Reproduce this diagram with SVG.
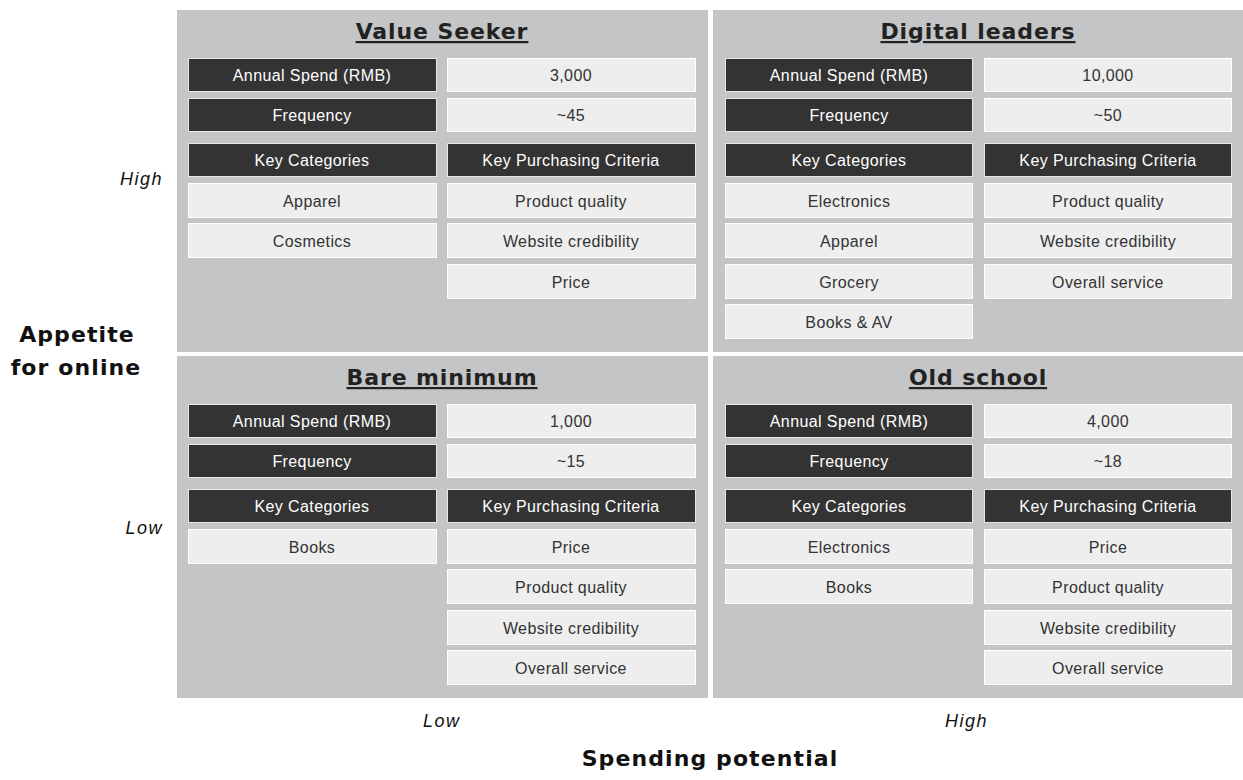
<svg xmlns="http://www.w3.org/2000/svg" width="1243" height="780" viewBox="0 0 1243 780">
  <style>
    .panel { fill: #c4c5c7; }
    .dk { fill: #333333; stroke: #e6e6e6; stroke-width: 1; }
    .lt { fill: #eeeeee; stroke: #ffffff; stroke-width: 1; }
    .dt { fill: #ffffff; font-family: "Liberation Sans", Arial, sans-serif; font-size: 16px; letter-spacing: 0.4px; text-anchor: middle; }
    .ltx { fill: #333333; font-family: "Liberation Sans", Arial, sans-serif; font-size: 16px; letter-spacing: 0.4px; text-anchor: middle; }
    .title { fill: #222222; font-family: "DejaVu Sans", sans-serif; font-weight: bold; font-size: 22px; letter-spacing: 0.9px; text-anchor: middle; text-decoration: underline; }
    .axis { fill: #111111; font-family: "DejaVu Sans", sans-serif; font-weight: bold; font-size: 22px; letter-spacing: 1.1px; text-anchor: middle; }
    .tick { fill: #111111; font-family: "Liberation Sans", Arial, sans-serif; font-style: italic; font-size: 18px; letter-spacing: 1.5px; }
  </style>

  <rect width="1243" height="780" fill="#ffffff"/>

  <!-- Quadrant: high appetite, low spend -->
  <g id="value-seeker">
    <rect class="panel" x="177" y="10" width="531" height="342"/>
    <text class="title" x="442" y="39">Value Seeker</text>
    <rect class="dk" x="188.5" y="58.5" width="248" height="33"/><text class="dt" x="312" y="81">Annual Spend (RMB)</text>
    <rect class="lt" x="447.5" y="58.5" width="248" height="33"/><text class="ltx" x="571" y="81">3,000</text>
    <rect class="dk" x="188.5" y="98.5" width="248" height="33"/><text class="dt" x="312" y="121">Frequency</text>
    <rect class="lt" x="447.5" y="98.5" width="248" height="33"/><text class="ltx" x="571" y="121">~45</text>
    <rect class="dk" x="188.5" y="143.5" width="248" height="33"/><text class="dt" x="312" y="166">Key Categories</text>
    <rect class="dk" x="447.5" y="143.5" width="248" height="33"/><text class="dt" x="571" y="166">Key Purchasing Criteria</text>
    <rect class="lt" x="188.5" y="183.5" width="248" height="34"/><text class="ltx" x="312" y="207">Apparel</text>
    <rect class="lt" x="447.5" y="183.5" width="248" height="34"/><text class="ltx" x="571" y="207">Product quality</text>
    <rect class="lt" x="188.5" y="223.5" width="248" height="34"/><text class="ltx" x="312" y="247">Cosmetics</text>
    <rect class="lt" x="447.5" y="223.5" width="248" height="34"/><text class="ltx" x="571" y="247">Website credibility</text>
    <rect class="lt" x="447.5" y="264.5" width="248" height="34"/><text class="ltx" x="571" y="288">Price</text>
  </g>

  <!-- Quadrant: high appetite, high spend -->
  <g id="digital-leaders">
    <rect class="panel" x="713" y="10" width="530" height="342"/>
    <text class="title" x="978" y="39">Digital leaders</text>
    <rect class="dk" x="725.5" y="58.5" width="247" height="33"/><text class="dt" x="849" y="81">Annual Spend (RMB)</text>
    <rect class="lt" x="984.5" y="58.5" width="247" height="33"/><text class="ltx" x="1108" y="81">10,000</text>
    <rect class="dk" x="725.5" y="98.5" width="247" height="33"/><text class="dt" x="849" y="121">Frequency</text>
    <rect class="lt" x="984.5" y="98.5" width="247" height="33"/><text class="ltx" x="1108" y="121">~50</text>
    <rect class="dk" x="725.5" y="143.5" width="247" height="33"/><text class="dt" x="849" y="166">Key Categories</text>
    <rect class="dk" x="984.5" y="143.5" width="247" height="33"/><text class="dt" x="1108" y="166">Key Purchasing Criteria</text>
    <rect class="lt" x="725.5" y="183.5" width="247" height="34"/><text class="ltx" x="849" y="207">Electronics</text>
    <rect class="lt" x="984.5" y="183.5" width="247" height="34"/><text class="ltx" x="1108" y="207">Product quality</text>
    <rect class="lt" x="725.5" y="223.5" width="247" height="34"/><text class="ltx" x="849" y="247">Apparel</text>
    <rect class="lt" x="984.5" y="223.5" width="247" height="34"/><text class="ltx" x="1108" y="247">Website credibility</text>
    <rect class="lt" x="725.5" y="264.5" width="247" height="34"/><text class="ltx" x="849" y="288">Grocery</text>
    <rect class="lt" x="984.5" y="264.5" width="247" height="34"/><text class="ltx" x="1108" y="288">Overall service</text>
    <rect class="lt" x="725.5" y="304.5" width="247" height="34"/><text class="ltx" x="849" y="328">Books &amp; AV</text>
  </g>

  <!-- Quadrant: low appetite, low spend -->
  <g id="bare-minimum">
    <rect class="panel" x="177" y="356" width="531" height="342"/>
    <text class="title" x="442" y="385">Bare minimum</text>
    <rect class="dk" x="188.5" y="404.5" width="248" height="33"/><text class="dt" x="312" y="427">Annual Spend (RMB)</text>
    <rect class="lt" x="447.5" y="404.5" width="248" height="33"/><text class="ltx" x="571" y="427">1,000</text>
    <rect class="dk" x="188.5" y="444.5" width="248" height="33"/><text class="dt" x="312" y="467">Frequency</text>
    <rect class="lt" x="447.5" y="444.5" width="248" height="33"/><text class="ltx" x="571" y="467">~15</text>
    <rect class="dk" x="188.5" y="489.5" width="248" height="33"/><text class="dt" x="312" y="512">Key Categories</text>
    <rect class="dk" x="447.5" y="489.5" width="248" height="33"/><text class="dt" x="571" y="512">Key Purchasing Criteria</text>
    <rect class="lt" x="188.5" y="529.5" width="248" height="34"/><text class="ltx" x="312" y="553">Books</text>
    <rect class="lt" x="447.5" y="529.5" width="248" height="34"/><text class="ltx" x="571" y="553">Price</text>
    <rect class="lt" x="447.5" y="569.5" width="248" height="34"/><text class="ltx" x="571" y="593">Product quality</text>
    <rect class="lt" x="447.5" y="610.5" width="248" height="34"/><text class="ltx" x="571" y="634">Website credibility</text>
    <rect class="lt" x="447.5" y="650.5" width="248" height="34"/><text class="ltx" x="571" y="674">Overall service</text>
  </g>

  <!-- Quadrant: low appetite, high spend -->
  <g id="old-school">
    <rect class="panel" x="713" y="356" width="530" height="342"/>
    <text class="title" x="978" y="385">Old school</text>
    <rect class="dk" x="725.5" y="404.5" width="247" height="33"/><text class="dt" x="849" y="427">Annual Spend (RMB)</text>
    <rect class="lt" x="984.5" y="404.5" width="247" height="33"/><text class="ltx" x="1108" y="427">4,000</text>
    <rect class="dk" x="725.5" y="444.5" width="247" height="33"/><text class="dt" x="849" y="467">Frequency</text>
    <rect class="lt" x="984.5" y="444.5" width="247" height="33"/><text class="ltx" x="1108" y="467">~18</text>
    <rect class="dk" x="725.5" y="489.5" width="247" height="33"/><text class="dt" x="849" y="512">Key Categories</text>
    <rect class="dk" x="984.5" y="489.5" width="247" height="33"/><text class="dt" x="1108" y="512">Key Purchasing Criteria</text>
    <rect class="lt" x="725.5" y="529.5" width="247" height="34"/><text class="ltx" x="849" y="553">Electronics</text>
    <rect class="lt" x="984.5" y="529.5" width="247" height="34"/><text class="ltx" x="1108" y="553">Price</text>
    <rect class="lt" x="725.5" y="569.5" width="247" height="34"/><text class="ltx" x="849" y="593">Books</text>
    <rect class="lt" x="984.5" y="569.5" width="247" height="34"/><text class="ltx" x="1108" y="593">Product quality</text>
    <rect class="lt" x="984.5" y="610.5" width="247" height="34"/><text class="ltx" x="1108" y="634">Website credibility</text>
    <rect class="lt" x="984.5" y="650.5" width="247" height="34"/><text class="ltx" x="1108" y="674">Overall service</text>
  </g>

  <!-- Axis labels -->
  <g id="axis-y">
    <text class="tick" x="163" y="185" text-anchor="end">High</text>
    <text class="tick" x="163" y="534" text-anchor="end">Low</text>
    <text class="axis" x="77" y="342">Appetite</text>
    <text class="axis" x="76" y="375">for online</text>
  </g>
  <g id="axis-x">
    <text class="tick" x="423" y="727">Low</text>
    <text class="tick" x="945" y="727">High</text>
    <text class="axis" x="710" y="766">Spending potential</text>
  </g>
</svg>
